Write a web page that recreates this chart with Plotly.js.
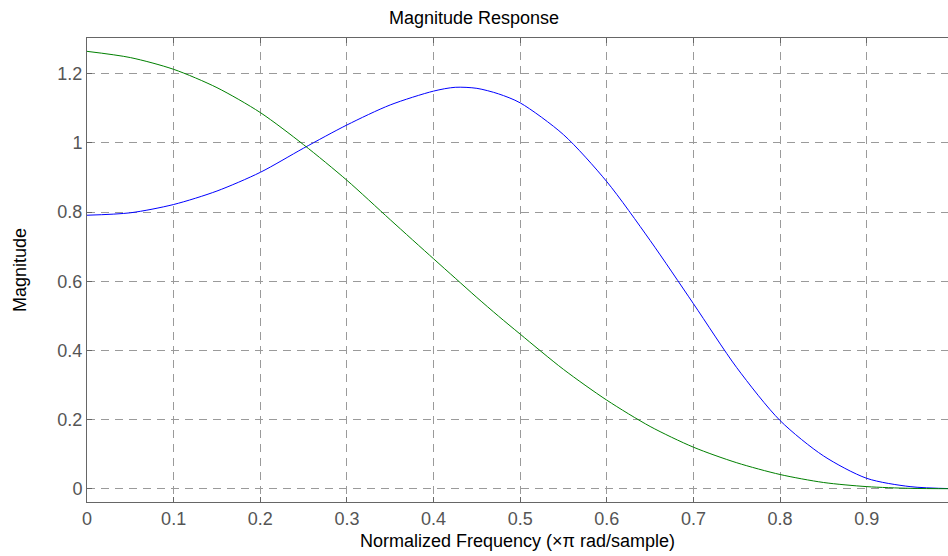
<!DOCTYPE html>
<html>
<head>
<meta charset="utf-8">
<script src="https://cdn.plot.ly/plotly-3.0.1.min.js"></script>
<style>html,body{margin:0;padding:0;background:#fff;}#chart{width:948px;height:556px;}</style>
</head>
<body>
<div id="chart"></div>
<script>
const freq = [0, 0.05, 0.1, 0.15, 0.2, 0.25, 0.3, 0.35, 0.4, 0.425, 0.45, 0.475, 0.5, 0.55, 0.6, 0.65, 0.7, 0.75, 0.8, 0.85, 0.9, 0.95, 1.0];
const magBlue = [0.791, 0.798, 0.822, 0.861, 0.915, 0.985, 1.052, 1.110, 1.150, 1.161, 1.158, 1.142, 1.116, 1.024, 0.888, 0.718, 0.535, 0.350, 0.197, 0.095, 0.030, 0.006, 0.0];
const magGreen = [1.265, 1.247, 1.213, 1.160, 1.088, 0.995, 0.892, 0.778, 0.665, 0.609, 0.553, 0.499, 0.447, 0.345, 0.256, 0.180, 0.120, 0.075, 0.041, 0.018, 0.006, 0.001, 0.0];
const xTicks = [0, 0.1, 0.2, 0.3, 0.4, 0.5, 0.6, 0.7, 0.8, 0.9];
const xTickText = ['0', '0.1', '0.2', '0.3', '0.4', '0.5', '0.6', '0.7', '0.8', '0.9'];
const yTicks = [0, 0.2, 0.4, 0.6, 0.8, 1, 1.2];
const yTickText = ['0', '0.2', '0.4', '0.6', '0.8', '1', '1.2'];

const FONT = 'Liberation Sans, Arial, sans-serif';
const traces = [
  {x: freq, y: magBlue, type: 'scatter', mode: 'lines', line: {color: '#0000ff', width: 1, shape: 'spline', smoothing: 0.8}, showlegend: false, hoverinfo: 'x+y'},
  {x: freq, y: magGreen, type: 'scatter', mode: 'lines', line: {color: '#008000', width: 1, shape: 'spline', smoothing: 0.8}, showlegend: false, hoverinfo: 'x+y'}
];
const layout = {
  width: 948, height: 556,
  margin: {l: 87, r: 0, t: 38, b: 54, pad: 0},
  paper_bgcolor: '#ffffff', plot_bgcolor: '#ffffff',
  font: {family: FONT, color: '#000000'},
  title: {text: 'Magnitude Response', font: {family: FONT, size: 18, color: '#000000'}, x: 0.5, xanchor: 'center', xref: 'container', y: 1 - 18/556, yanchor: 'middle', yref: 'container'},
  xaxis: {
    range: [0, 0.9938], tickvals: xTicks, ticktext: xTickText,
    ticks: 'inside', ticklen: 5, tickcolor: '#666666', tickwidth: 1,
    showline: true, linecolor: '#666666', linewidth: 1, mirror: 'ticks',
    showgrid: true, gridcolor: '#9a9a9a', gridwidth: 1, griddash: '8px,6px',
    zeroline: false,
    tickfont: {family: FONT, size: 18, color: '#555555'},
    title: {text: 'Normalized Frequency (×π rad/sample)', font: {family: FONT, size: 18, color: '#000000'}, standoff: 6}
  },
  yaxis: {
    range: [-0.0385, 1.3036], tickvals: yTicks, ticktext: yTickText,
    ticks: 'inside', ticklen: 5, tickcolor: '#666666', tickwidth: 1,
    showline: true, linecolor: '#666666', linewidth: 1, mirror: false,
    showgrid: true, gridcolor: '#9a9a9a', gridwidth: 1, griddash: '8px,6px',
    zeroline: false,
    tickfont: {family: FONT, size: 18, color: '#555555'},
    title: {text: 'Magnitude', font: {family: FONT, size: 18, color: '#000000'}, standoff: 26}
  }
};
Plotly.newPlot('chart', traces, layout, {displayModeBar: false, staticPlot: true});
</script>
</body>
</html>
